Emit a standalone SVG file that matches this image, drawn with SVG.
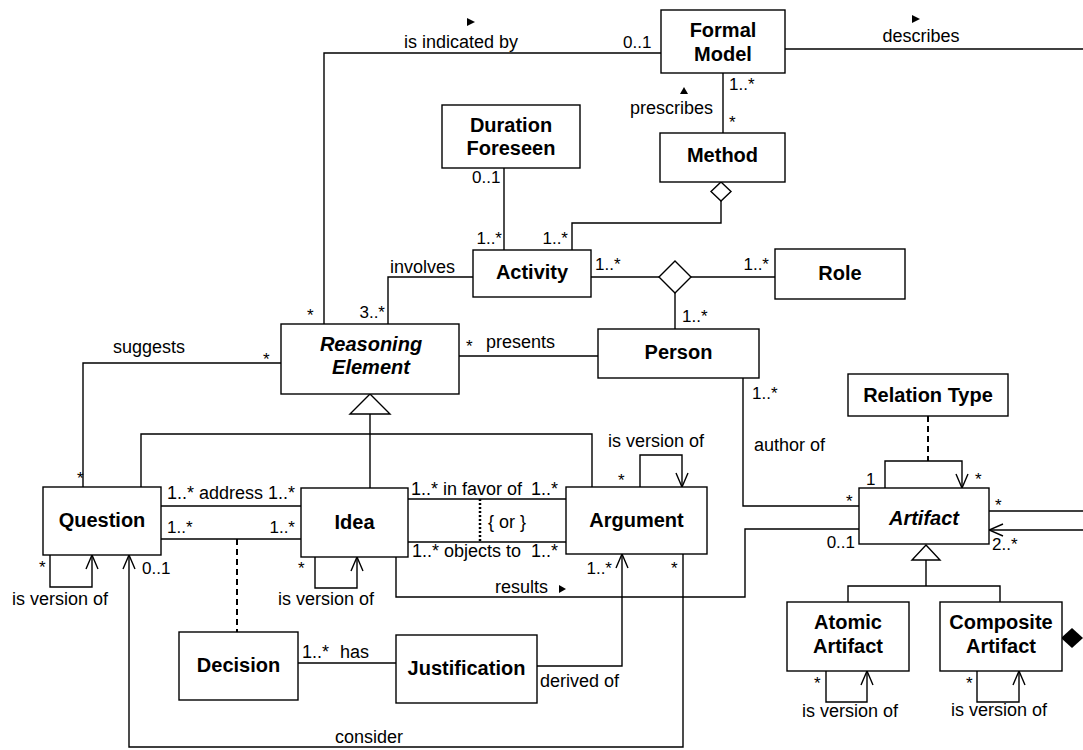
<svg xmlns="http://www.w3.org/2000/svg" width="1083" height="750" viewBox="0 0 1083 750">
<style>
.box{fill:#fff;stroke:#000;stroke-width:1.4}
.ln{fill:none;stroke:#000;stroke-width:1.4}
.dash{fill:none;stroke:#000;stroke-width:2;stroke-dasharray:6 4}
.dot{fill:none;stroke:#000;stroke-width:2.5;stroke-dasharray:2 2}
.hd{fill:#fff;stroke:#000;stroke-width:1.4}
.fl{fill:#000;stroke:none}
.t{font-family:"Liberation Sans",Arial,sans-serif;font-size:20px;font-weight:bold;text-anchor:middle;fill:#000}
.i{font-style:italic}
.l{font-family:"Liberation Sans",Arial,sans-serif;font-size:18px;fill:#000}
.m{font-family:"Liberation Sans",Arial,sans-serif;font-size:17px;fill:#000}
.e{text-anchor:end}
.c{text-anchor:middle}
</style>
<defs>
<marker id="open" viewBox="-1 -1 16 14" refX="14" refY="6" markerWidth="16" markerHeight="14" orient="auto" markerUnits="userSpaceOnUse">
<path d="M0,0 L14,6 L0,12" fill="none" stroke="#000" stroke-width="1.4"/>
</marker>
</defs>
<rect width="1083" height="750" fill="#fff"/>
<g id="connectors">
<polyline class="ln" points="661,53 324,53 324,324"/>
<line class="ln" x1="785" y1="49" x2="1083" y2="49"/>
<line class="ln" x1="723" y1="73" x2="723" y2="133"/>
<polyline class="ln" points="721,201 721,223 572,223 572,250"/>
<polygon class="hd" points="721,182 731,191.5 721,201 711,191.5"/>
<line class="ln" x1="504" y1="168" x2="504" y2="250"/>
<line class="ln" x1="591" y1="277" x2="659" y2="277"/>
<line class="ln" x1="691" y1="277" x2="775" y2="277"/>
<line class="ln" x1="675" y1="293" x2="675" y2="329"/>
<polygon class="hd" points="675,261 691,277 675,293 659,277"/>
<polyline class="ln" points="473,277 388,277 388,324"/>
<line class="ln" x1="459" y1="356" x2="598" y2="356"/>
<polyline class="ln" points="281,363 83,363 83,487"/>
<line class="ln" x1="370" y1="414" x2="370" y2="488"/>
<polyline class="ln" points="141,487 141,434 592,434 592,487"/>
<polygon class="hd" points="370,394 390,414 350,414"/>
<line class="ln" x1="161" y1="506" x2="301" y2="506"/>
<line class="ln" x1="161" y1="539" x2="301" y2="539"/>
<line class="dash" x1="237" y1="539" x2="237" y2="632"/>
<polyline class="ln" points="50,555 50,587 92,587 92,555" marker-end="url(#open)"/>
<polyline class="ln" points="683,554 683,747 129,747 129,555" marker-end="url(#open)"/>
<polyline class="ln" points="315,557 315,588 357,588 357,557" marker-end="url(#open)"/>
<polyline class="ln" points="396,557 396,597 745,597 745,529 859,529"/>
<line class="ln" x1="408" y1="499" x2="566" y2="499"/>
<line class="ln" x1="408" y1="542" x2="566" y2="542"/>
<line class="dot" x1="480" y1="499" x2="480" y2="542"/>
<polyline class="ln" points="640,487 640,455 682,455 682,487" marker-end="url(#open)"/>
<line class="ln" x1="298" y1="663" x2="396" y2="663"/>
<polyline class="ln" points="537,666 622,666 622,554" marker-end="url(#open)"/>
<polyline class="ln" points="743,378 743,506 859,506"/>
<line class="dash" x1="928" y1="416" x2="928" y2="461"/>
<polyline class="ln" points="885,488 885,461 962,461 962,488" marker-end="url(#open)"/>
<line class="ln" x1="989" y1="511" x2="1083" y2="511"/>
<polyline class="ln" points="1083,530 989,530" marker-end="url(#open)"/>
<line class="ln" x1="926" y1="560" x2="926" y2="586"/>
<polyline class="ln" points="848,602 848,586 1000,586 1000,602"/>
<polygon class="hd" points="926,545 940,560 912,560"/>
<polyline class="ln" points="826,671 826,702 867,702 867,671" marker-end="url(#open)"/>
<polyline class="ln" points="977,671 977,702 1019,702 1019,671" marker-end="url(#open)"/>
<polygon class="fl" points="1061,638 1072,628 1083,638 1072,648"/>
<polygon class="fl" points="467,18 475,22 467,26"/>
<polygon class="fl" points="912,15 920,19 912,23"/>
<polygon class="fl" points="680,94 684,87 688,94"/>
<polygon class="fl" points="559,585 566,589 559,593"/>
<text class="l c" x="461" y="48">is indicated by</text>
<text class="m" x="623" y="48">0..1</text>
<text class="l c" x="921" y="42">describes</text>
<text class="l e" x="713" y="114">prescribes</text>
<text class="m" x="729" y="90">1..*</text>
<text class="m" x="729" y="128">*</text>
<text class="m" x="472" y="183">0..1</text>
<text class="m e" x="502" y="244">1..*</text>
<text class="m e" x="568" y="244">1..*</text>
<text class="m" x="595" y="270">1..*</text>
<text class="m e" x="769" y="270">1..*</text>
<text class="m" x="682" y="322">1..*</text>
<text class="l" x="390" y="273">involves</text>
<text class="m e" x="385" y="318">3..*</text>
<text class="m" x="307" y="321">*</text>
<text class="l" x="486" y="348">presents</text>
<text class="m" x="466" y="352">*</text>
<text class="l" x="113" y="353">suggests</text>
<text class="m" x="263" y="365">*</text>
<text class="m" x="77" y="484">*</text>
<text class="l" x="167" y="499">1..* address 1..*</text>
<text class="m" x="167" y="533">1..*</text>
<text class="m e" x="295" y="533">1..*</text>
<text class="m" x="39" y="573">*</text>
<text class="l" x="12" y="605">is version of</text>
<text class="m" x="142" y="574">0..1</text>
<text class="m" x="298" y="574">*</text>
<text class="l" x="278" y="605">is version of</text>
<text class="l" x="411" y="495">1..* in favor of</text>
<text class="l e" x="558" y="495">1..*</text>
<text class="l" x="412" y="557">1..* objects to</text>
<text class="l e" x="558" y="557">1..*</text>
<text class="l" x="488" y="528">{ or }</text>
<text class="l" x="608" y="447">is version of</text>
<text class="m" x="618" y="486">*</text>
<text class="m e" x="612" y="574">1..*</text>
<text class="m" x="671" y="574">*</text>
<text class="l" x="495" y="593">results</text>
<text class="l" x="302" y="658">1..*</text>
<text class="l" x="340" y="658">has</text>
<text class="l" x="540" y="687">derived of</text>
<text class="l c" x="369" y="743">consider</text>
<text class="m" x="752" y="399">1..*</text>
<text class="l" x="754" y="451">author of</text>
<text class="m" x="846" y="507">*</text>
<text class="m" x="866" y="485">1</text>
<text class="m" x="975" y="485">*</text>
<text class="m" x="995" y="511">*</text>
<text class="m" x="992" y="550">2..*</text>
<text class="m e" x="855" y="548">0..1</text>
<text class="m" x="814" y="689">*</text>
<text class="l" x="802" y="717">is version of</text>
<text class="m" x="966" y="689">*</text>
<text class="l" x="951" y="716">is version of</text>
</g>
<g id="formal-model"><rect class="box" x="661" y="10" width="124" height="63"/><text class="t" x="723" y="37">Formal</text><text class="t" x="723" y="61">Model</text></g>
<g id="method"><rect class="box" x="660" y="133" width="125" height="49"/><text class="t" x="722.5" y="162">Method</text></g>
<g id="duration-foreseen"><rect class="box" x="442" y="105" width="138" height="63"/><text class="t" x="511" y="132">Duration</text><text class="t" x="511" y="155">Foreseen</text></g>
<g id="activity"><rect class="box" x="473" y="250" width="118" height="47"/><text class="t" x="532" y="279">Activity</text></g>
<g id="role"><rect class="box" x="775" y="249" width="130" height="50"/><text class="t" x="840" y="280">Role</text></g>
<g id="person"><rect class="box" x="598" y="329" width="161" height="49"/><text class="t" x="678.5" y="359">Person</text></g>
<g id="reasoning-element"><rect class="box" x="281" y="324" width="178" height="70"/><text class="t i" x="371" y="351">Reasoning</text><text class="t i" x="371" y="374">Element</text></g>
<g id="question"><rect class="box" x="43" y="487" width="118" height="68"/><text class="t" x="102" y="527">Question</text></g>
<g id="idea"><rect class="box" x="301" y="488" width="107" height="69"/><text class="t" x="354.5" y="529">Idea</text></g>
<g id="argument"><rect class="box" x="566" y="487" width="141" height="67"/><text class="t" x="636.5" y="527">Argument</text></g>
<g id="decision"><rect class="box" x="179" y="632" width="119" height="68"/><text class="t" x="238.5" y="672">Decision</text></g>
<g id="justification"><rect class="box" x="396" y="635" width="141" height="68"/><text class="t" x="466.5" y="675">Justification</text></g>
<g id="relation-type"><rect class="box" x="848" y="374" width="160" height="42"/><text class="t" x="928" y="402">Relation Type</text></g>
<g id="artifact"><rect class="box" x="859" y="488" width="130" height="56"/><text class="t i" x="924" y="525">Artifact</text></g>
<g id="atomic-artifact"><rect class="box" x="787" y="602" width="122" height="69"/><text class="t" x="848" y="629">Atomic</text><text class="t" x="848" y="653">Artifact</text></g>
<g id="composite-artifact"><rect class="box" x="940" y="602" width="122" height="69"/><text class="t" x="1001" y="629">Composite</text><text class="t" x="1001" y="653">Artifact</text></g>
</svg>
